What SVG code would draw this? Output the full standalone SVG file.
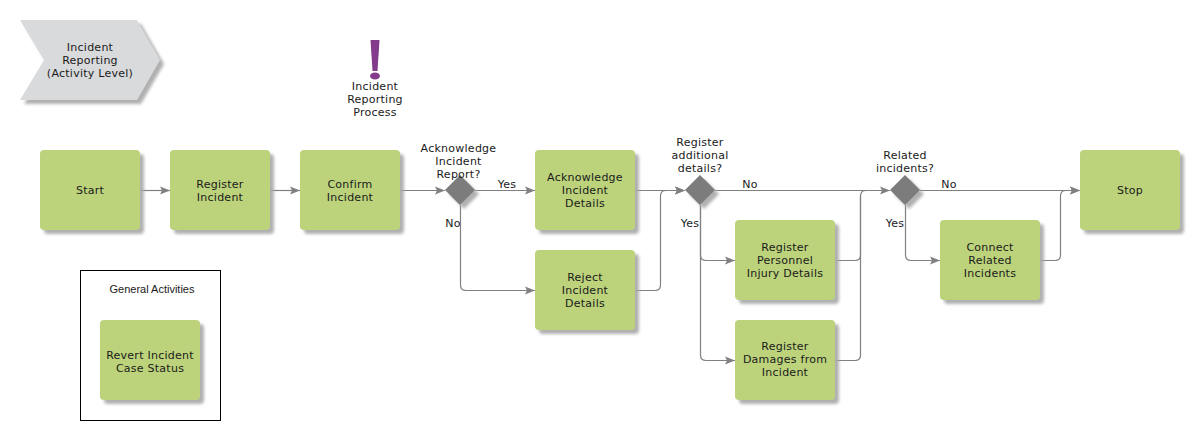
<svg xmlns="http://www.w3.org/2000/svg" width="1190" height="430" viewBox="0 0 1190 430">
<style>
text{font-family:"DejaVu Sans",Verdana,sans-serif;font-size:11px;fill:#1a1a1a;text-anchor:middle;letter-spacing:.25px}
.t{fill:#bcd37b;filter:url(#s)}
.d{fill:#7c7c7c;filter:url(#s)}
.c{fill:none;stroke:#808080;stroke-width:1.2;marker-end:url(#a)}
.n{fill:none;stroke:#808080;stroke-width:1.2}
</style>
<defs>
<filter id="s" x="-20%" y="-20%" width="140%" height="140%"><feDropShadow dx="4" dy="4" stdDeviation="1.6" flood-color="#a8a8a8" flood-opacity=".9"/></filter>
<marker id="a" markerUnits="userSpaceOnUse" markerWidth="12" markerHeight="10" refX="10" refY="4" orient="auto" overflow="visible"><path d="M0 0L10 4L0 8L2 4Z" fill="#808080"/></marker>
</defs>
<g id="connectors">
<path class="c" d="M140 190.500H170"/>
<path class="c" d="M270 190.500H300"/>
<path class="c" d="M400 190.500H445"/>
<path class="c" d="M475 190.500H535"/>
<path class="c" d="M460.500 205V285Q460.500 290.500 466 290.500H535"/>
<path class="c" d="M635 190.500H685"/>
<path class="c" d="M635 290.500H655Q660.500 290.500 660.500 285V196Q660.500 190.500 666 190.500H685"/>
<path class="c" d="M715 190.500H890"/>
<path class="c" d="M700.500 205V255Q700.500 260.500 706 260.500H735"/>
<path class="c" d="M700.500 205V355Q700.500 360.500 706 360.500H735"/>
<path class="n" d="M835 260.500H855Q860.500 260.500 860.500 255V196Q860.500 190.500 866 190.500H880"/>
<path class="n" d="M835 360.500H855Q860.500 360.500 860.500 355V196"/>
<path class="c" d="M920 190.500H1080"/>
<path class="c" d="M905.500 205V255Q905.500 260.500 911 260.500H940"/>
<path class="c" d="M1040 260.500H1055Q1060.500 260.500 1060.500 255V196Q1060.500 190.500 1066 190.500H1080"/>
</g>
<g id="header"><path d="M20 20H137L160 60L137 100H20L44 60Z" fill="#d9dadc" filter="url(#s)"/><text x="90" y="51">Incident</text><text x="90" y="64">Reporting</text><text x="90" y="77">(Activity Level)</text></g>
<g id="event"><path d="M370.500 40H379.500L377.500 71H372.500Z" fill="#843b8b"/><ellipse cx="375" cy="76" rx="5" ry="3.500" fill="#843b8b"/><text x="375" y="90">Incident</text><text x="375" y="103">Reporting</text><text x="375" y="116">Process</text></g>
<g id="start"><rect class="t" x="40" y="150" width="100" height="80" rx="4"/><text x="90" y="194">Start</text></g>
<g id="register"><rect class="t" x="170" y="150" width="100" height="80" rx="4"/><text x="220" y="188">Register</text><text x="220" y="201">Incident</text></g>
<g id="confirm"><rect class="t" x="300" y="150" width="100" height="80" rx="4"/><text x="350" y="188">Confirm</text><text x="350" y="201">Incident</text></g>
<g id="d1"><path class="d" d="M460 175L475 190L460 205L445 190Z"/><text x="458.500" y="152">Acknowledge</text><text x="458.500" y="165">Incident</text><text x="458.500" y="178">Report?</text></g>
<g id="ack"><rect class="t" x="535" y="150" width="100" height="80" rx="4"/><text x="585" y="181">Acknowledge</text><text x="585" y="194">Incident</text><text x="585" y="207">Details</text></g>
<g id="reject"><rect class="t" x="535" y="250" width="100" height="80" rx="4"/><text x="585" y="281">Reject</text><text x="585" y="294">Incident</text><text x="585" y="307">Details</text></g>
<g id="d2"><path class="d" d="M700 175L715 190L700 205L685 190Z"/><text x="700" y="146">Register</text><text x="700" y="159">additional</text><text x="700" y="172">details?</text></g>
<g id="personnel"><rect class="t" x="735" y="220" width="100" height="80" rx="4"/><text x="785" y="251">Register</text><text x="785" y="264">Personnel</text><text x="785" y="277">Injury Details</text></g>
<g id="damages"><rect class="t" x="735" y="320" width="100" height="80" rx="4"/><text x="785" y="350">Register</text><text x="785" y="363">Damages from</text><text x="785" y="376">Incident</text></g>
<g id="d3"><path class="d" d="M905 175L920 190L905 205L890 190Z"/><text x="905" y="159">Related</text><text x="905" y="172">incidents?</text></g>
<g id="connect"><rect class="t" x="940" y="220" width="100" height="80" rx="4"/><text x="990" y="251">Connect</text><text x="990" y="264">Related</text><text x="990" y="277">Incidents</text></g>
<g id="stop"><rect class="t" x="1080" y="150" width="100" height="80" rx="4"/><text x="1130" y="194">Stop</text></g>
<g id="general"><rect x="80.500" y="270.500" width="140" height="150" fill="#fff" stroke="#000"/><text x="152" y="293" style="font-family:'Liberation Sans',Arial,sans-serif;letter-spacing:0">General Activities</text><rect class="t" x="100" y="320" width="100" height="80" rx="4"/><text x="150" y="359">Revert Incident</text><text x="150" y="372">Case Status</text></g>
<g id="labels"><text x="507" y="188">Yes</text><text x="453" y="227">No</text><text x="690" y="227">Yes</text><text x="750" y="188">No</text><text x="895" y="227">Yes</text><text x="949" y="188">No</text></g>
</svg>
